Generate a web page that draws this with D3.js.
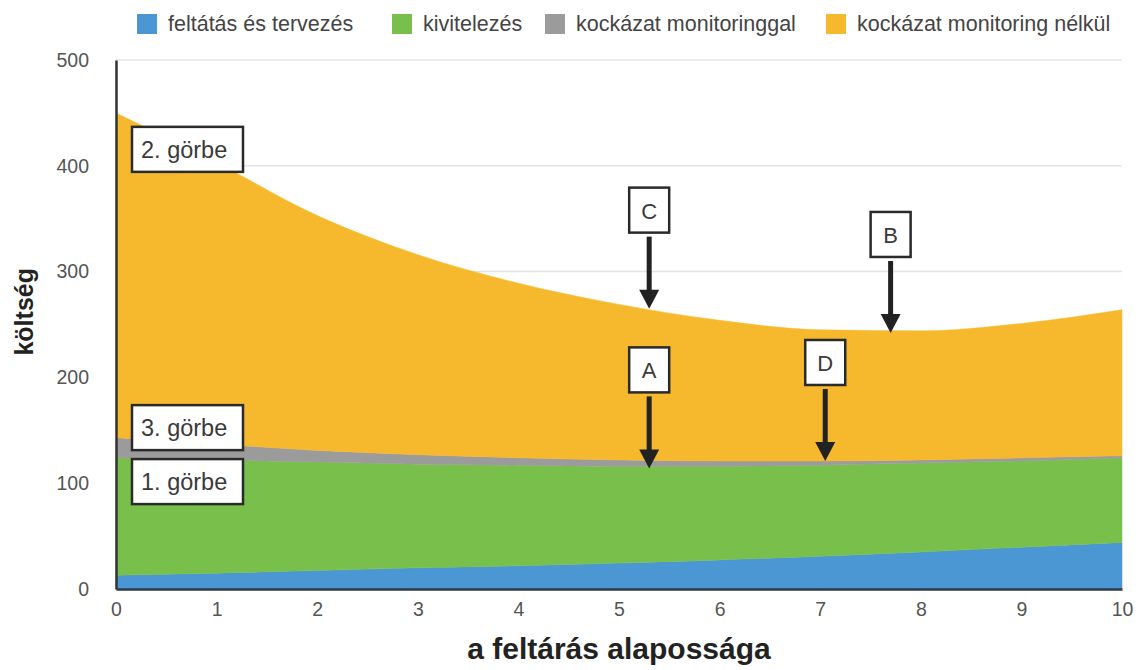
<!DOCTYPE html>
<html>
<head>
<meta charset="utf-8">
<script src="https://cdn.jsdelivr.net/npm/d3@7"></script>
<style>
  body { margin: 0; background: #fff; }
  svg { font-family: "Liberation Sans", Arial, Helvetica, sans-serif; }
</style>
</head>
<body>
<svg id="chart" width="1139" height="670"></svg>
<script>
// data
var xs = [0, 1, 2, 3, 4, 5, 6, 7, 8, 9, 10];
var tervezes = [13, 15, 17.5, 20, 22, 24.5, 27.5, 31, 35, 39.5, 44];
var kivitelezes = [111, 107, 102.5, 98, 95, 91.5, 88.5, 86, 84, 81.5, 80];
var monitoringgal = [19, 15, 11, 9, 7, 6, 5, 4, 3, 3, 2];
var monitoringNelkul = [307, 266, 222, 189, 165, 147, 133, 124, 122, 127, 138];
var seriesNames = ['feltátás és tervezés', 'kivitelezés', 'kockázat monitoringgal', 'kockázat monitoring nélkül'];
var seriesColors = ['#4b97d4', '#78c04b', '#9b9b9b', '#f6b82d'];
var yTicks = [0, 100, 200, 300, 400, 500];
var curveLabels = ['2. görbe', '3. görbe', '1. görbe'];
var curveLabelValues = [416, 153, 102];   // vertical centre of each box, in data units
var arrowLabels = ['C', 'B', 'A', 'D'];
var arrowX = [5.3, 7.7, 5.3, 7.05];
var arrowY = [265, 242, 114, 121];

var width = 1139, height = 670;
var margin = {top: 60, right: 17, bottom: 81, left: 116};
var svg = d3.select('#chart');

var x = d3.scaleLinear().domain([0, 10]).range([margin.left, width - margin.right]);
var y = d3.scaleLinear().domain([0, 500]).range([height - margin.bottom, margin.top]);

var table = xs.map(function(d, i) {
  return {x: d, s0: tervezes[i], s1: kivitelezes[i], s2: monitoringgal[i], s3: monitoringNelkul[i]};
});
var stack = d3.stack().keys(['s0', 's1', 's2', 's3']);
var layers = stack(table);

// grid
svg.append('g').selectAll('line.grid')
  .data(yTicks.slice(1))
  .enter().append('line')
  .attr('x1', x(0)).attr('x2', x(10))
  .attr('y1', function(d){ return y(d); })
  .attr('y2', function(d){ return y(d); })
  .attr('stroke', '#e4e4e4').attr('stroke-width', 1.5);

var area = d3.area()
  .curve(d3.curveMonotoneX)
  .x(function(d){ return x(d.data.x); })
  .y0(function(d){ return y(d[0]); })
  .y1(function(d){ return y(d[1]); });

svg.append('g').selectAll('path.layer')
  .data(layers)
  .enter().append('path')
  .attr('d', area)
  .attr('fill', function(d, i){ return seriesColors[i]; })
  .attr('stroke', function(d, i){ return seriesColors[i]; })
  .attr('stroke-width', 0.5);

// axes
var yAxis = d3.axisLeft(y).tickValues(yTicks).tickSize(0).tickPadding(27);
var gy = svg.append('g').attr('transform', 'translate(' + margin.left + ',0)').call(yAxis);
gy.select('.domain').attr('stroke', '#333').attr('stroke-width', 2.5);
gy.selectAll('text').attr('fill', '#555').attr('font-size', 19.5)
  .attr('font-family', '"Liberation Sans", Arial, sans-serif');

var xAxis = d3.axisBottom(x).ticks(10).tickSize(0).tickPadding(13);
var gx = svg.append('g').attr('transform', 'translate(0,' + y(0) + ')').call(xAxis);
gx.select('.domain').attr('stroke', '#2d3a48').attr('stroke-width', 2.5);
gx.selectAll('text').attr('fill', '#555').attr('font-size', 19.5)
  .attr('font-family', '"Liberation Sans", Arial, sans-serif');

// axis titles
svg.append('text')
  .attr('transform', 'translate(33,' + y(262) + ') rotate(-90)')
  .attr('text-anchor', 'middle')
  .attr('font-size', 25).attr('font-weight', 'bold').attr('fill', '#222')
  .text('költség');
svg.append('text')
  .attr('x', 619).attr('y', 659)
  .attr('text-anchor', 'middle')
  .attr('font-size', 30).attr('font-weight', 'bold').attr('fill', '#222')
  .text('a feltárás alapossága');

// legend
var legendX = [137, 392, 545, 826];
var legend = svg.append('g').selectAll('g.leg')
  .data(seriesNames)
  .enter().append('g')
  .attr('transform', function(d, i){ return 'translate(' + legendX[i] + ',14)'; });
legend.append('rect').attr('width', 20).attr('height', 20)
  .attr('fill', function(d, i){ return seriesColors[i]; });
legend.append('text').attr('x', 31).attr('y', 17)
  .attr('font-size', 21.5).attr('fill', '#444')
  .text(function(d){ return d; });

// curve label boxes
var cl = svg.append('g').selectAll('g.cl')
  .data(curveLabels)
  .enter().append('g')
  .attr('transform', function(d, i){ return 'translate(' + (x(0) + 16) + ',' + (y(curveLabelValues[i]) - 22) + ')'; });
cl.append('rect').attr('width', 111).attr('height', 45)
  .attr('fill', '#fff').attr('stroke', '#2a2a2a').attr('stroke-width', 2.5);
cl.append('text').attr('x', 9).attr('y', 31)
  .attr('font-size', 23.5).attr('fill', '#3a3a3a')
  .text(function(d){ return d; });

// letter boxes with arrows
var ar = svg.append('g').selectAll('g.ar')
  .data(arrowLabels)
  .enter().append('g')
  .attr('transform', function(d, i){ return 'translate(' + x(arrowX[i]) + ',' + y(arrowY[i]) + ')'; });
ar.append('rect').attr('x', -20).attr('y', -121).attr('width', 40).attr('height', 45)
  .attr('fill', '#fff').attr('stroke', '#2a2a2a').attr('stroke-width', 2.5);
ar.append('text').attr('x', 0).attr('y', -90)
  .attr('text-anchor', 'middle').attr('font-size', 22).attr('fill', '#3a3a3a')
  .text(function(d){ return d; });
ar.append('line').attr('x1', 0).attr('x2', 0).attr('y1', -72).attr('y2', -16)
  .attr('stroke', '#222').attr('stroke-width', 5);
ar.append('path').attr('d', 'M-10,-19 L10,-19 L0,0 Z').attr('fill', '#222');
</script>
</body>
</html>
